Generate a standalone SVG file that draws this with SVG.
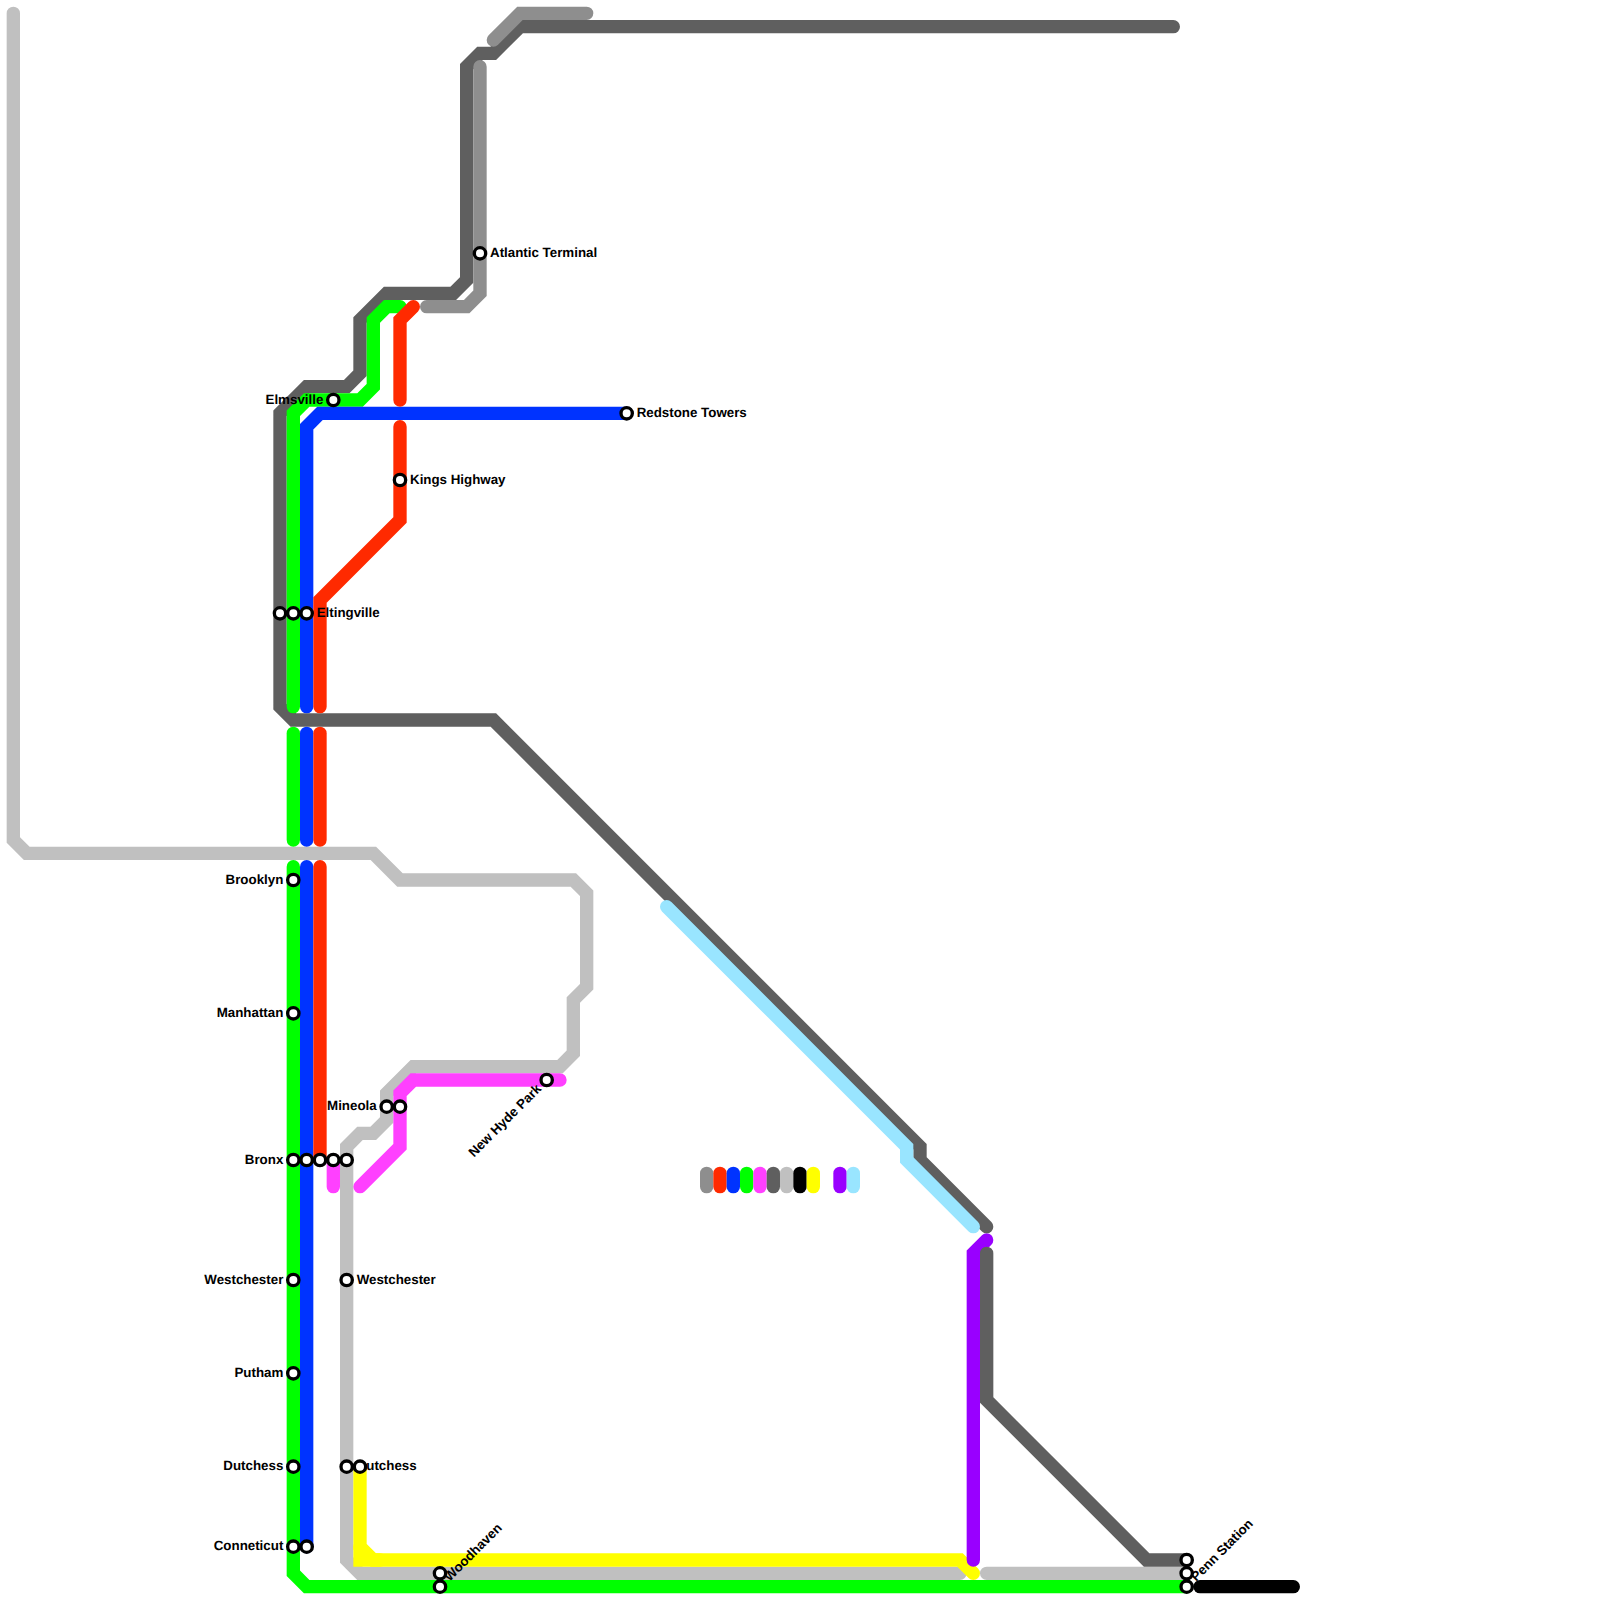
<svg xmlns="http://www.w3.org/2000/svg" width="1600" height="1600" viewBox="0 0 1600 1600">
<style>
.l{fill:none;stroke-width:13.33;stroke-linecap:round;stroke-linejoin:miter}
.lg{stroke:#c0c0c0}.ye{stroke:#ffff00}.pu{stroke:#9900ff}.dg{stroke:#5f5f5f}.mg{stroke:#8e8e8e}.lb{stroke:#99e5ff}.gr{stroke:#00ff00}.bl{stroke:#0033ff}.re{stroke:#ff2a00}.pk{stroke:#ff40ff}.bk{stroke:#000000}
.s{fill:#ffffff;stroke:#000000;stroke-width:3.33}
text{font-family:"Liberation Sans",Arial,sans-serif;font-size:13.33px;font-weight:bold;fill:#000000;text-rendering:geometricPrecision}
.e{text-anchor:end}
</style>
<rect width="1600" height="1600" fill="#ffffff"/>
<g id="connectors">
<path class="l lg" d="M13.33 13.33V840L26.67 853.33H373.33L400 880H573.33L586.67 893.33V986.67L573.33 1000V1053.33L560 1066.67H413.33L386.67 1093.33V1120L373.33 1133.33H360L346.67 1146.67V1560L360 1573.33H960"/>
<path class="l lg" d="M986.67 1573.33H1186.67"/>
<path class="l ye" d="M360 1466.67V1546.67L373.33 1560H960L973.33 1573.33"/>
<path class="l ye" d="M360 1546.67V1560H380"/>
<path class="l pu" d="M973.33 1560V1253.33L986.67 1240"/>
<path class="l dg" d="M1173.33 26.67H520L493.33 53.33H480L466.67 66.67V280L453.33 293.33H386.67L360 320V373.33L346.67 386.67H306.67L280 413.33V706.67L293.33 720H493.33L920 1146.67V1160L986.67 1226.67"/>
<path class="l dg" d="M986.67 1253.33V1400L1146.67 1560H1186.67"/>
<path class="l mg" d="M493.33 40L520 13.33H586.67"/>
<path class="l mg" d="M480 66.67V293.33L466.67 306.67H426.67"/>
<path class="l lb" d="M666.67 906.67L906.67 1146.67V1160L973.33 1226.67"/>
<path class="l gr" d="M293.33 706.67V413.33L306.67 400H360L373.33 386.67V320L386.67 306.67H400"/>
<path class="l gr" d="M293.33 733.33V840"/>
<path class="l gr" d="M293.33 866.67V1573.33L306.67 1586.67H1186.67"/>
<path class="l bl" d="M306.67 706.67V426.67L320 413.33H626.67"/>
<path class="l bl" d="M306.67 733.33V840"/>
<path class="l bl" d="M306.67 866.67V1546.67"/>
<path class="l re" d="M413.33 306.67L400 320V400"/>
<path class="l re" d="M400 426.67V520L320 600V706.67"/>
<path class="l re" d="M320 733.33V840"/>
<path class="l re" d="M320 866.67V1160"/>
<path class="l pk" d="M333.33 1160V1186.67"/>
<path class="l pk" d="M360 1186.67L400 1146.67V1093.33L413.33 1080H560"/>
<path class="l bk" d="M1200 1586.67H1293.33"/>
</g>
<g id="legend">
<path class="l mg" d="M706.67 1173.33V1186.67"/>
<path class="l re" d="M720 1173.33V1186.67"/>
<path class="l bl" d="M733.33 1173.33V1186.67"/>
<path class="l gr" d="M746.67 1173.33V1186.67"/>
<path class="l pk" d="M760 1173.33V1186.67"/>
<path class="l dg" d="M773.33 1173.33V1186.67"/>
<path class="l lg" d="M786.67 1173.33V1186.67"/>
<path class="l bk" d="M800 1173.33V1186.67"/>
<path class="l ye" d="M813.33 1173.33V1186.67"/>
<path class="l pu" d="M840 1173.33V1186.67"/>
<path class="l lb" d="M853.33 1173.33V1186.67"/>
</g>
<g id="st-elmsville"><text class="e" x="323.33" y="403.5">Elmsville</text><circle class="s" cx="333.33" cy="400" r="5.67"/></g>
<g id="st-redstone"><circle class="s" cx="626.67" cy="413.33" r="5.67"/><text x="636.67" y="416.83">Redstone Towers</text></g>
<g id="st-kings"><circle class="s" cx="400" cy="480" r="5.67"/><text x="410" y="483.5">Kings Highway</text></g>
<g id="st-atlantic"><circle class="s" cx="480" cy="253.33" r="5.67"/><text x="490" y="256.83">Atlantic Terminal</text></g>
<g id="st-g1"><circle class="s" cx="280" cy="613.33" r="5.67"/></g>
<g id="st-g2"><circle class="s" cx="293.33" cy="613.33" r="5.67"/></g>
<g id="st-eltingville"><circle class="s" cx="306.67" cy="613.33" r="5.67"/><text x="316.67" y="616.83">Eltingville</text></g>
<g id="st-brooklyn"><text class="e" x="283.33" y="883.5">Brooklyn</text><circle class="s" cx="293.33" cy="880" r="5.67"/></g>
<g id="st-manhattan"><text class="e" x="283.33" y="1016.83">Manhattan</text><circle class="s" cx="293.33" cy="1013.33" r="5.67"/></g>
<g id="st-bronx"><text class="e" x="283.33" y="1163.5">Bronx</text><circle class="s" cx="293.33" cy="1160" r="5.67"/></g>
<g id="st-b2"><circle class="s" cx="306.67" cy="1160" r="5.67"/></g>
<g id="st-b3"><circle class="s" cx="320" cy="1160" r="5.67"/></g>
<g id="st-b4"><circle class="s" cx="333.33" cy="1160" r="5.67"/></g>
<g id="st-b5"><circle class="s" cx="346.67" cy="1160" r="5.67"/></g>
<g id="st-westchester-l"><text class="e" x="283.33" y="1283.5">Westchester</text><circle class="s" cx="293.33" cy="1280" r="5.67"/></g>
<g id="st-westchester-r"><circle class="s" cx="346.67" cy="1280" r="5.67"/><text x="356.67" y="1283.5">Westchester</text></g>
<g id="st-putham"><text class="e" x="283.33" y="1376.83">Putham</text><circle class="s" cx="293.33" cy="1373.33" r="5.67"/></g>
<g id="st-dutchess-l"><text class="e" x="283.33" y="1470.17">Dutchess</text><circle class="s" cx="293.33" cy="1466.67" r="5.67"/></g>
<g id="st-dutchess-r"><text x="356.67" y="1470.17">Dutchess</text><circle class="s" cx="346.67" cy="1466.67" r="5.67"/></g>
<g id="st-dutchess-y"><circle class="s" cx="360" cy="1466.67" r="5.67"/></g>
<g id="st-conneticut"><text class="e" x="283.33" y="1550.17">Conneticut</text><circle class="s" cx="293.33" cy="1546.67" r="5.67"/></g>
<g id="st-c2"><circle class="s" cx="306.67" cy="1546.67" r="5.67"/></g>
<g id="st-mineola"><text class="e" x="376.67" y="1110.17">Mineola</text><circle class="s" cx="386.67" cy="1106.67" r="5.67"/></g>
<g id="st-m2"><circle class="s" cx="400" cy="1106.67" r="5.67"/></g>
<g id="st-newhyde"><text class="e" transform="translate(546.67 1080) rotate(-45)" x="-10" y="3.5">New Hyde Park</text><circle class="s" cx="546.67" cy="1080" r="5.67"/></g>
<g id="st-woodhaven"><text transform="translate(440 1586.67) rotate(-45)" x="10" y="3.5">Woodhaven</text><circle class="s" cx="440" cy="1586.67" r="5.67"/></g>
<g id="st-w2"><circle class="s" cx="440" cy="1573.33" r="5.67"/></g>
<g id="st-penn"><text transform="translate(1186.67 1586.67) rotate(-45)" x="10" y="3.5">Penn Station</text><circle class="s" cx="1186.67" cy="1586.67" r="5.67"/></g>
<g id="st-p2"><circle class="s" cx="1186.67" cy="1573.33" r="5.67"/></g>
<g id="st-p3"><circle class="s" cx="1186.67" cy="1560" r="5.67"/></g>
</svg>
